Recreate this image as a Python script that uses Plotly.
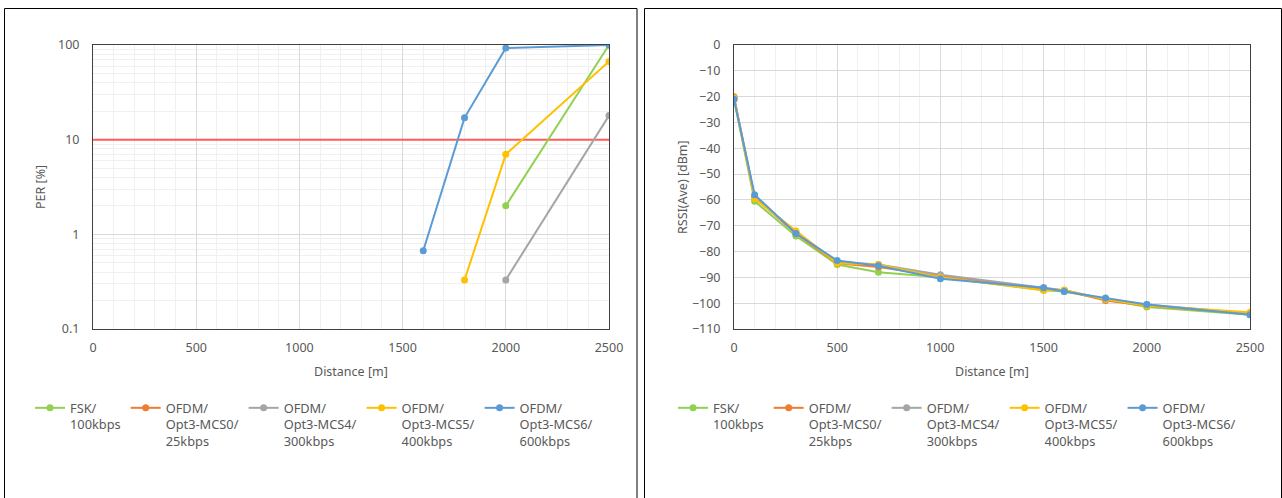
import plotly.graph_objects as go

# ---------------- data ----------------
series_names = [
    "FSK/<br>100kbps",
    "OFDM/<br>Opt3-MCS0/<br>25kbps",
    "OFDM/<br>Opt3-MCS4/<br>300kbps",
    "OFDM/<br>Opt3-MCS5/<br>400kbps",
    "OFDM/<br>Opt3-MCS6/<br>600kbps",
]
series_colors = ["#92D050", "#ED7D31", "#A5A5A5", "#FFC000", "#5B9BD5"]

# PER [%] vs distance (MCS0 has no PER points)
per_fsk_x = [2000, 2500]
per_fsk_y = [2.0, 100]
per_mcs0_x = [None]
per_mcs0_y = [None]
per_mcs4_x = [2000, 2500]
per_mcs4_y = [0.33, 18]
per_mcs5_x = [1800, 2000, 2500]
per_mcs5_y = [0.33, 7.0, 67]
per_mcs6_x = [1600, 1800, 2000, 2500]
per_mcs6_y = [0.67, 17, 93, 100]
per_limit_x = [0, 2500]
per_limit_y = [10, 10]

# RSSI [dBm] vs distance
rssi_x = [0, 100, 300, 500, 700, 1000, 1500, 1600, 1800, 2000, 2500]
rssi_fsk = [-21, -60.5, -74, -85, -88, -90, -95, -95.5, -98.5, -101.5, -104.5]
rssi_mcs0 = [-20, -59, -73, -84.5, -86, -89.5, -94.5, -95, -99, -101, -104]
rssi_mcs4 = [-20.5, -59, -72.5, -84, -85, -89, -94, -95, -98.5, -100.5, -104]
rssi_mcs5 = [-20.5, -59.5, -72, -84.5, -85, -90, -95, -95, -98.5, -101, -103.5]
rssi_mcs6 = [-21, -58, -73, -83.5, -85.5, -90.5, -94, -95.5, -98, -100.5, -104.5]

per_y_ticks = [0.1, 1, 10, 100]
per_y_ticktext = ["0.1", "1", "10", "100"]
x_ticks = [0, 500, 1000, 1500, 2000, 2500]

# ---------------- figure ----------------
W, H = 1282, 498
FONT = "Noto Sans, DejaVu Sans, sans-serif"
TXT = "#595959"

fig = go.Figure()

per_x = [per_fsk_x, per_mcs0_x, per_mcs4_x, per_mcs5_x, per_mcs6_x]
per_y = [per_fsk_y, per_mcs0_y, per_mcs4_y, per_mcs5_y, per_mcs6_y]
rssi_y = [rssi_fsk, rssi_mcs0, rssi_mcs4, rssi_mcs5, rssi_mcs6]

fig.add_trace(go.Scatter(x=per_limit_x, y=per_limit_y, mode="lines",
                         line=dict(color="#FF5B5B", width=2), showlegend=False,
                         xaxis="x", yaxis="y", hoverinfo="skip"))

for i in range(5):
    fig.add_trace(go.Scatter(
        x=per_x[i], y=per_y[i], mode="lines+markers", name=series_names[i],
        line=dict(color=series_colors[i], width=2),
        marker=dict(color=series_colors[i], size=7),
        xaxis="x", yaxis="y", legend="legend", showlegend=True))

for i in range(5):
    fig.add_trace(go.Scatter(
        x=rssi_x, y=rssi_y[i], mode="lines+markers", name=series_names[i],
        line=dict(color=series_colors[i], width=2),
        marker=dict(color=series_colors[i], size=7),
        xaxis="x2", yaxis="y2", legend="legend2"))

axis_common = dict(
    showline=True, mirror=True, linecolor="#404040", linewidth=1,
    gridcolor="#D9D9D9", gridwidth=1, zeroline=False, ticks="",
    automargin=False,
    tickfont=dict(family=FONT, size=12.5, color=TXT),
)

def px2x(p):
    return p / W

def px2y(p):
    return 1 - p / H

title_font = dict(family=FONT, size=12.5, color=TXT)

fig.update_layout(
    template="none",
    width=W, height=H,
    margin=dict(l=0, r=0, t=0, b=0, autoexpand=False),
    paper_bgcolor="white", plot_bgcolor="white",
    font=dict(family=FONT, size=12, color=TXT),
    xaxis=dict(domain=[px2x(93), px2x(609)], range=[0, 2500], tickvals=x_ticks,
               anchor="y", ticklabelstandoff=7,
               minor=dict(dtick=100, showgrid=True, gridcolor="#F0F0F0"),
               **axis_common),
    yaxis=dict(domain=[px2y(329), px2y(45)], type="log", range=[-1, 2],
               tickvals=per_y_ticks, ticktext=per_y_ticktext, anchor="x",
               ticklabelstandoff=10,
               minor=dict(dtick="D1", showgrid=True, gridcolor="#F0F0F0"),
               **axis_common),
    xaxis2=dict(domain=[px2x(734), px2x(1250)], range=[0, 2500], tickvals=x_ticks,
                anchor="y2", ticklabelstandoff=7,
                minor=dict(dtick=100, showgrid=True, gridcolor="#F0F0F0"),
                **axis_common),
    yaxis2=dict(domain=[px2y(329), px2y(45)], range=[-110, 0], dtick=10,
                anchor="x2", ticklabelstandoff=10,
                **axis_common),
    legend=dict(orientation="h", x=px2x(30), y=px2y(393), xanchor="left", yanchor="top",
                valign="top", font=dict(family=FONT, size=12.8, color=TXT),
                bgcolor="rgba(0,0,0,0)", itemwidth=30, tracegroupgap=0),
    legend2=dict(orientation="h", x=px2x(673), y=px2y(393), xanchor="left", yanchor="top",
                 valign="top", font=dict(family=FONT, size=12.8, color=TXT),
                 bgcolor="rgba(0,0,0,0)", itemwidth=30, tracegroupgap=0),
    showlegend=True,
    shapes=[
        dict(type="rect", xref="paper", yref="paper",
             x0=px2x(4.5), x1=px2x(637), y0=px2y(505), y1=px2y(8.5),
             line=dict(color="#000000", width=1)),
        dict(type="rect", xref="paper", yref="paper",
             x0=px2x(644.5), x1=px2x(1281.5), y0=px2y(505), y1=px2y(8.5),
             line=dict(color="#000000", width=1)),
    ],
    annotations=[
        dict(text="PER [%]", xref="paper", yref="paper", x=px2x(40), y=px2y(187),
             xanchor="center", yanchor="middle",
             textangle=-90, showarrow=False, font=title_font),
        dict(text="Distance [m]", xref="paper", yref="paper", x=px2x(351), y=px2y(371),
             xanchor="center", yanchor="middle", showarrow=False, font=title_font),
        dict(text="RSSI(Ave) [dBm]", xref="paper", yref="paper", x=px2x(682), y=px2y(187),
             xanchor="center", yanchor="middle",
             textangle=-90, showarrow=False, font=title_font),
        dict(text="Distance [m]", xref="paper", yref="paper", x=px2x(992), y=px2y(371),
             xanchor="center", yanchor="middle", showarrow=False, font=title_font),
    ],
)

fig.write_html("out.html",
               config={"displayModeBar": False},
               post_script="document.body.style.margin='0';document.body.style.overflow='hidden';")
